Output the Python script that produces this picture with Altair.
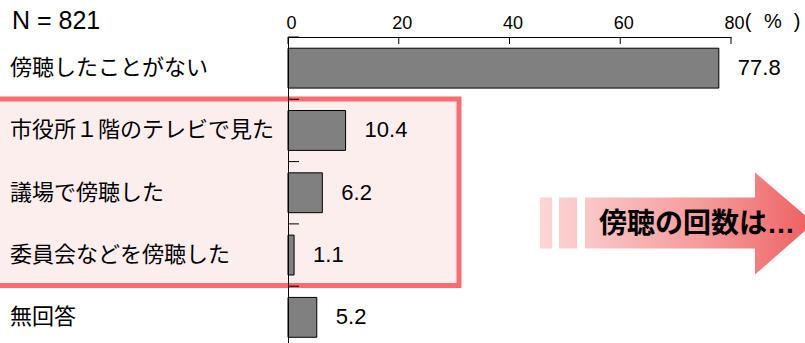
import altair as alt
import pandas as pd

categories = ["傍聴したことがない", "市役所１階のテレビで見た", "議場で傍聴した", "委員会などを傍聴した", "無回答"]
values = [77.8, 10.4, 6.2, 1.1, 5.2]
value_labels = ["77.8", "10.4", "6.2", "1.1", "5.2"]
x_ticks = [0, 20, 40, 60, 80]
sample_note = "N = 821"
unit_parts = ["(", "%", ")"]
arrow_text = "傍聴の回数は…"

df = pd.DataFrame({"cat": categories, "val": values, "lab": value_labels})
ticks_df = pd.DataFrame({"t": x_ticks})

JP = "Noto Sans CJK JP"
LAT = "Liberation Sans"

xscale = alt.Scale(domain=[0, 80], nice=False, zero=True)
yscale = alt.Scale(domain=categories, range=[0, 311.5], paddingInner=0, paddingOuter=0)

# highlight box (behind everything)
box = alt.Chart(pd.DataFrame({"k": [0]})).mark_rect(
    fill="#fdeeee", stroke="#fb6b70", strokeWidth=5
).encode(x=alt.value(-293), x2=alt.value(171), y=alt.value(62), y2=alt.value(248.5))

# arrow (stripes + body + head) as one custom symbol with gradient
arrow_path = (
    "M-1.37,-0.255L-1.25,-0.255L-1.25,0.255L-1.37,0.255Z"
    "M-1.18,-0.255L-1.00,-0.255L-1.00,0.255L-1.18,0.255Z"
    "M-0.92,-0.255L0.78,-0.255L0.78,-0.505L1.37,0L0.78,0.515L0.78,0.255L-0.92,0.255Z"
)
arrow = alt.Chart(pd.DataFrame({"k": [0]})).mark_point(
    shape=arrow_path,
    size=40000,
    filled=True,
    opacity=1,
    strokeWidth=0,
    fill=alt.Gradient(
        gradient="linear",
        x1=0, x2=1, y1=0, y2=0,
        stops=[
            alt.GradientStop(offset=0, color="#fcd6d6"),
            alt.GradientStop(offset=0.2, color="#f9c4c4"),
            alt.GradientStop(offset=0.6, color="#f59a9a"),
            alt.GradientStop(offset=0.8, color="#f27e7e"),
            alt.GradientStop(offset=1, color="#ec5f5f"),
        ],
    ),
).encode(x=alt.value(389), y=alt.value(186))

arrow_label = alt.Chart(pd.DataFrame({"t": [arrow_text]})).mark_text(
    font=f"{LAT}, {JP}", fontSize=28, fontWeight="bold", color="black",
    align="center", baseline="middle"
).encode(x=alt.value(409), y=alt.value(188), text="t:N")

bars = alt.Chart(df).mark_bar(
    fill="#808080", stroke="black", strokeWidth=1, height=alt.RelativeBandSize(0.64)
).encode(
    x=alt.X("val:Q", scale=xscale,
            axis=alt.Axis(orient="top", values=x_ticks, title=None, grid=False,
                          ticks=False, tickSize=0, domainColor="black", domainWidth=1,
                          labelFont=LAT, labelFontSize=18, labelColor="black",
                          labelPadding=9, labelBaseline="alphabetic", labelOffset=3,
                          labelFlush=False, labelAngle=0, zindex=1)),
    y=alt.Y("cat:N", scale=yscale, sort=categories,
            axis=alt.Axis(labels=False, ticks=False, title=None, grid=False,
                          domainColor="black", domainWidth=1, zindex=1)),
)

value_text = alt.Chart(df).mark_text(
    font=LAT, fontSize=22, color="black", align="left", baseline="middle", dx=19
).encode(x=alt.X("val:Q", scale=xscale), y=alt.Y("cat:N", scale=yscale, sort=categories), text="lab:N")

cat_text = alt.Chart(df).mark_text(
    font=JP, fontSize=22, color="black", align="left", baseline="middle"
).encode(x=alt.value(-278), y=alt.Y("cat:N", scale=yscale, sort=categories), text="cat:N")

y_ticks = alt.Chart(df).mark_rule(color="black", strokeWidth=1).encode(
    y=alt.Y("cat:N", scale=yscale, sort=categories, bandPosition=0),
    x=alt.value(0), x2=alt.value(11),
)

x_tick_marks = alt.Chart(ticks_df).mark_rule(color="black", strokeWidth=1).encode(
    x=alt.X("t:Q", scale=xscale), y=alt.value(0), y2=alt.value(7)
)

unit_layers = []
for part, dx in zip(unit_parts, [17, 42, 66]):
    unit_layers.append(
        alt.Chart(pd.DataFrame({"t": [part], "x": [80]})).mark_text(
            font=LAT, fontSize=20, color="black", align="center", baseline="alphabetic", dx=dx
        ).encode(x=alt.X("x:Q", scale=xscale), y=alt.value(-9), text="t:N")
    )

note = alt.Chart(pd.DataFrame({"t": [sample_note]})).mark_text(
    font=LAT, fontSize=25, color="black", align="left", baseline="middle"
).encode(x=alt.value(-276), y=alt.value(-16), text="t:N")

chart = alt.layer(
    box, arrow, arrow_label, bars, value_text, cat_text, y_ticks, x_tick_marks, *unit_layers, note
).properties(
    width=443, height=306,
    padding={"left": 288, "top": 37, "right": 74, "bottom": 0},
    autosize="none",
).configure(background="white").configure_view(strokeWidth=0).configure_axis(grid=False)

chart.save("out.html", embed_options={"renderer": "svg", "actions": False})
